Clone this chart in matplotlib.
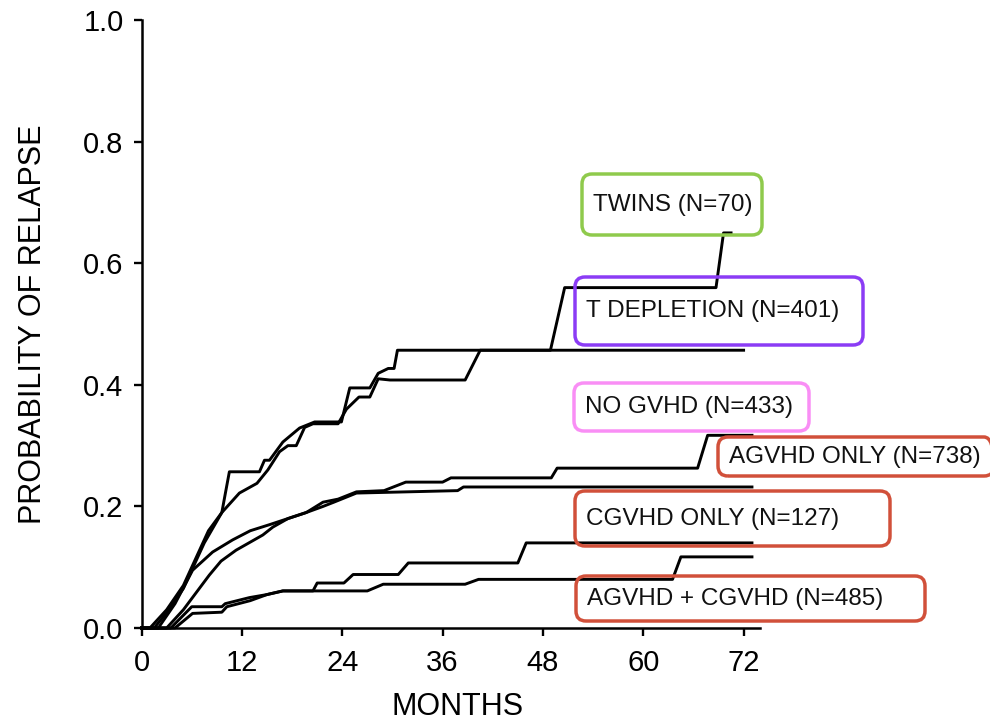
import matplotlib
matplotlib.use("Agg")
import matplotlib.pyplot as plt
from matplotlib.patches import FancyBboxPatch

plt.rcParams['font.family'] = ['Liberation Sans', 'DejaVu Sans']

# relapse curves: months, probability
twins_months = [0, 1.5, 3, 5, 6, 7.5, 9.6, 11.7, 13.8, 15.1, 16.5, 17.5, 18.5, 19.5, 20.5, 23.5, 24.5, 26, 27.3,
                28.3, 29.7, 38.7, 40.5, 48.9, 50.6, 68.7, 69.6, 70.5]
twins_prob = [0, 0, 0.025, 0.065, 0.095, 0.14, 0.19, 0.222, 0.238, 0.26, 0.29, 0.30, 0.30, 0.33, 0.336, 0.336,
              0.36, 0.38, 0.38, 0.41, 0.408, 0.408, 0.457, 0.457, 0.56, 0.56, 0.65, 0.65]

tdep_months = [0, 1, 3, 5, 6, 7, 8, 9.6, 10, 10.5, 14.1, 14.7, 15.3, 16.9, 18.9, 20.7, 23.9, 24.9, 27.3, 28.3,
               29.5, 30.2, 30.6, 72]
tdep_prob = [0, 0, 0.03, 0.07, 0.10, 0.13, 0.16, 0.19, 0.22, 0.257, 0.257, 0.276, 0.276, 0.306, 0.329, 0.339,
             0.339, 0.395, 0.395, 0.419, 0.427, 0.427, 0.457, 0.457]

nogvhd_months = [0, 2, 4, 6.1, 8.5, 10.9, 13, 15.3, 17.5, 19.7, 21.7, 23.5, 25.7, 29, 31.6, 36, 37, 49, 49.7,
                 66.5, 67.7, 73]
nogvhd_prob = [0, 0, 0.04, 0.095, 0.125, 0.145, 0.16, 0.17, 0.18, 0.19, 0.207, 0.212, 0.224, 0.226, 0.24, 0.24,
               0.247, 0.247, 0.263, 0.263, 0.317, 0.317]

agvhd_months = [0, 3, 5, 8.1, 9.5, 11.3, 14.5, 15.7, 17.5, 19.7, 21.7, 23, 25.7, 37.8, 38.5, 73]
agvhd_prob = [0, 0, 0.03, 0.087, 0.11, 0.128, 0.153, 0.166, 0.18, 0.19, 0.20, 0.207, 0.222, 0.226, 0.232, 0.232]

cgvhd_months = [0, 3.5, 6, 9.6, 10, 12.9, 15, 16.9, 20.5, 21, 24.2, 25.3, 30.7, 31.9, 45, 46, 73]
cgvhd_prob = [0, 0, 0.035, 0.035, 0.04, 0.05, 0.055, 0.061, 0.061, 0.074, 0.074, 0.088, 0.088, 0.107, 0.107,
              0.14, 0.14]

both_months = [0, 4, 6.1, 9.6, 10.2, 13, 15, 16.9, 27, 28.9, 38.7, 40.3, 63.5, 64.5, 73]
both_prob = [0, 0, 0.024, 0.026, 0.035, 0.045, 0.055, 0.061, 0.061, 0.072, 0.072, 0.08, 0.08, 0.117, 0.117]

group_labels = ["TWINS (N=70)", "T DEPLETION (N=401)", "NO GVHD (N=433)",
                "AGVHD ONLY (N=738)", "CGVHD ONLY (N=127)", "AGVHD + CGVHD (N=485)"]
box_colors = ["#8fca4c", "#8b3cf5", "#f98ef5", "#d1503a", "#d1503a", "#d1503a"]

month_ticks = [0, 12, 24, 36, 48, 60, 72]
prob_ticks = [0.0, 0.2, 0.4, 0.6, 0.8, 1.0]

fig = plt.figure(figsize=(9.9, 7.21), dpi=100)
ax = fig.add_axes([0.143, 0.129, 0.625, 0.843])

curves = [(twins_months, twins_prob), (tdep_months, tdep_prob), (nogvhd_months, nogvhd_prob),
          (agvhd_months, agvhd_prob), (cgvhd_months, cgvhd_prob), (both_months, both_prob)]
for m, p in curves:
    ax.plot(m, p, color='black', lw=2.1, clip_on=False, zorder=3)

ax.set_xlim(0, 74)
ax.set_ylim(0, 1)
ax.set_xticks(month_ticks)
ax.set_yticks(prob_ticks)
ax.set_yticklabels([f"{v:.1f}" for v in prob_ticks])
ax.spines[['top', 'right']].set_visible(False)
for s in ['left', 'bottom']:
    ax.spines[s].set_linewidth(1.8)
ax.tick_params(direction='out', length=6, width=1.7, labelsize=21, pad=7)
ax.tick_params(axis='x', pad=9)

ax.set_xlabel("MONTHS", fontsize=22)
ax.set_ylabel("PROBABILITY OF RELAPSE", fontsize=22)
ax.xaxis.set_label_coords(0.51, -0.105)
ax.yaxis.set_label_coords(-0.152, 0.5)

# label boxes, pixel positions in the image (left, top, right, bottom)
box_px = [(582, 174, 762, 235), (575, 277, 863, 345), (574, 383, 809, 431),
          (718, 437, 994, 476), (575, 491, 890, 546), (576, 576, 925, 621)]
H = 7.21
for (l, t, r, b), txt, c in zip(box_px, group_labels, box_colors):
    patch = FancyBboxPatch((l / 100, H - b / 100), (r - l) / 100, (b - t) / 100,
                           boxstyle="round,pad=0,rounding_size=0.1",
                           transform=fig.dpi_scale_trans, facecolor='none',
                           edgecolor=c, lw=2.5, zorder=5)
    fig.add_artist(patch)
    fig.text((l + 11) / 100, H - (t + b) / 200, txt, transform=fig.dpi_scale_trans,
             ha='left', va='center', fontsize=17.5, color='#111111')

fig.savefig("out.png", dpi=100)
